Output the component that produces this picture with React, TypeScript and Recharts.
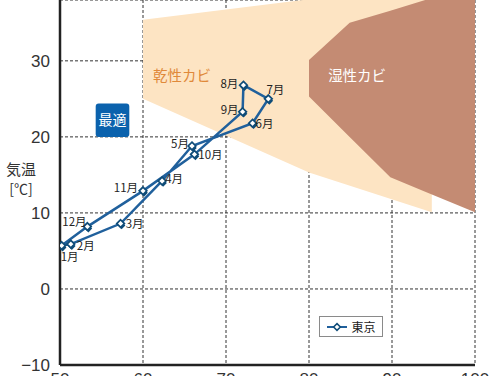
import React from 'react';
import {
  ComposedChart, Line, Area, XAxis, YAxis, CartesianGrid, ReferenceArea,
  ReferenceDot, LabelList, Legend, Rectangle,
} from 'recharts';

const months = ['1月', '2月', '3月', '4月', '5月', '6月', '7月', '8月', '9月', '10月', '11月', '12月'];
const humidity = [50.2, 51.3, 57.3, 62.3, 65.9, 73.2, 75.1, 72.1, 72.0, 66.2, 60.0, 53.3];
const temperature = [5.7, 5.9, 8.6, 14.2, 18.8, 21.8, 25.0, 26.8, 23.3, 17.7, 12.9, 8.2];

const xTicks = [50, 60, 70, 80, 90, 100];
const yTicks = [-10, 0, 10, 20, 30];

// dry mould zone (x: humidity, [low, high]: temperature)
const dryX = [60, 80, 94.8];
const dryLow = [25, 15.3, 10.1];
const dryHigh = [35.4, 38.1, 40];

// wet mould zone
const wetX = [80, 84.9, 89.8, 94, 100];
const wetLow = [25.3, 20, 14.7, 12.8, 10.1];
const wetHigh = [30.1, 35, 36.6, 38, 40];

// optimal box
const bestX = [54.3, 58.35];
const bestY = [20, 24.4];

const seriesName = '東京';
const dryLabel = '乾性カビ';
const wetLabel = '湿性カビ';
const bestLabel = '最適';

const points = months.map((m, i) => ({ x: humidity[i], t: temperature[i], label: m }));
const loop = [...points, { ...points[0], label: '' }];
const dryData = dryX.map((x, i) => ({ x, range: [dryLow[i], dryHigh[i]] }));
const wetData = wetX.map((x, i) => ({ x, range: [wetLow[i], wetHigh[i]] }));

const labelOffsets: Record<string, [number, number]> = {
  '1月': [8, 10], '2月': [15, 1], '3月': [14, -1], '4月': [12, -3],
  '5月': [-12, -3], '6月': [12, 0], '7月': [7, -10], '8月': [-14, -2],
  '9月': [-13, -3], '10月': [16, 0], '11月': [-17, -4], '12月': [-13, -6],
};

const LINE = '#20609c';
const MARK = '#0f4c78';
const FONT = '"Liberation Sans", "Noto Sans CJK JP", sans-serif';
const JFONT = '"Noto Sans CJK JP", "Liberation Sans", sans-serif';

const diamond = (cx: number, cy: number, r: number) =>
  `M${cx},${cy - r}L${cx + r},${cy}L${cx},${cy + r}L${cx - r},${cy}Z`;

const Dot = (props: any) => {
  const { cx, cy, index } = props;
  if (cx == null || cy == null || index === loop.length - 1) return <g key={`d${index}`} />;
  return (
    <g key={`d${index}`}>
      <path d={diamond(cx + 1, cy + 2, 3.8)} fill={MARK} />
      <path d={diamond(cx, cy, 3.8)} fill="#fff" stroke={MARK} strokeWidth={1.7} />
    </g>
  );
};

const MonthLabel = (props: any) => {
  const { x, y, value } = props;
  if (!value) return null;
  const off = labelOffsets[value] || [0, 0];
  return (
    <text x={x + off[0]} y={y + off[1]} textAnchor="middle" dominantBaseline="central"
      fontSize={11.5} fill="#222" fontFamily={JFONT}>{value}</text>
  );
};

const LegendBox = () => (
  <div style={{
    width: 64, height: 21, border: '1px solid #8a8a8a', background: '#fff',
    display: 'flex', alignItems: 'center', justifyContent: 'center', boxSizing: 'border-box',
  }}>
    <svg width={22} height={12}>
      <line x1={1} y1={6} x2={21} y2={6} stroke={LINE} strokeWidth={2} />
      <path d={diamond(11, 6, 3.4)} fill="#fff" stroke={MARK} strokeWidth={1.5} />
    </svg>
    <span style={{ fontFamily: JFONT, fontSize: 12, color: '#222', marginLeft: 3 }}>{seriesName}</span>
  </div>
);

const YLabel = () => (
  <g>
    <text x={21} y={168} textAnchor="middle" dominantBaseline="central" fontSize={15} fill="#333" fontFamily={JFONT}>気温</text>
    <text x={21} y={188} textAnchor="middle" dominantBaseline="central" fontSize={14} fill="#333" fontFamily={JFONT}>[℃]</text>
  </g>
);

export default function App() {
  return (
    <div style={{ position: 'absolute', left: 0, top: 0, width: 503, height: 376, overflow: 'hidden', background: '#fff' }}>
      <ComposedChart width={503} height={400} data={loop}
        margin={{ top: 0, right: 28, left: 0, bottom: 5 }}>
        <XAxis dataKey="x" type="number" domain={[50, 100]} ticks={xTicks} allowDataOverflow
          axisLine={{ stroke: '#222', strokeWidth: 2.5 }} tickLine={false} tickMargin={2} height={30}
          tick={{ fontSize: 17, fill: '#333', fontFamily: FONT }} />
        <YAxis type="number" domain={[-10, 38]} ticks={yTicks} allowDataOverflow width={60}
          axisLine={{ stroke: '#222', strokeWidth: 2.5 }} tickLine={false} tickMargin={4}
          tick={{ fontSize: 17, fill: '#333', fontFamily: FONT }}
          tickFormatter={(v: number) => (v < 0 ? `\u2212${Math.abs(v)}` : `${v}`)}
          label={{ content: () => <YLabel /> }} />
        <YAxis yAxisId="r" orientation="right" type="number" domain={[-10, 38]} width={0}
          tick={false} tickLine={false} axisLine={{ stroke: '#222', strokeWidth: 2.5 }} />
        <Area data={dryData} dataKey="range" type="linear" stroke="none" fill="#fde4c3"
          fillOpacity={1} isAnimationActive={false} legendType="none" />
        <Area data={wetData} dataKey="range" type="linear" stroke="none" fill="#c48b73"
          fillOpacity={1} isAnimationActive={false} legendType="none" />
        <CartesianGrid stroke="#333" strokeDasharray="3 2" strokeWidth={1} />
        <ReferenceArea x1={bestX[0]} x2={bestX[1]} y1={bestY[0]} y2={bestY[1]}
          fill="#0b62ad" fillOpacity={1} stroke="none"
          shape={(p: any) => <Rectangle {...p} radius={3} />}
          label={{ value: bestLabel, fill: '#fff', fontSize: 14, fontFamily: JFONT, position: 'center' }} />
        <ReferenceDot x={64.7} y={28} r={0} stroke="none" fill="none"
          label={{ value: dryLabel, fill: '#e0893a', fontSize: 14.5, fontFamily: JFONT, position: 'center' }} />
        <ReferenceDot x={85.8} y={28} r={0} stroke="none" fill="none"
          label={{ value: wetLabel, fill: '#fff', fontSize: 14.5, fontFamily: JFONT, position: 'center' }} />
        <Line dataKey="t" name={seriesName} type="linear" stroke={LINE} strokeWidth={2.5}
          dot={<Dot />} activeDot={false} isAnimationActive={false}>
          <LabelList dataKey="label" content={<MonthLabel />} />
        </Line>
        <Legend content={() => <LegendBox />} layout="horizontal" verticalAlign="middle" align="center"
          wrapperStyle={{ position: 'absolute', left: 319, top: 316, width: 64, height: 21 }} />
      </ComposedChart>
    </div>
  );
}
